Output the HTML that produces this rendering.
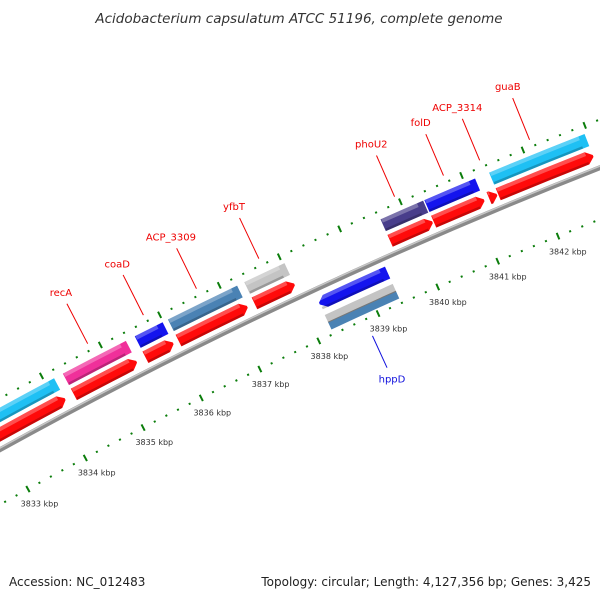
<!DOCTYPE html>
<html><head><meta charset="utf-8"><style>
html,body{margin:0;padding:0;background:#fff;}
svg{display:block;font-family:"DejaVu Sans","Liberation Sans",sans-serif;}
</style></head><body>
<svg id="map" width="600" height="600" viewBox="0 0 600 600">
<text x="299" y="23" text-anchor="middle" font-size="13.5" font-style="italic" fill="#333">Acidobacterium capsulatum ATCC 51196, complete genome</text>
<text x="9" y="586" font-size="12" fill="#222">Accession: NC_012483</text>
<text x="591" y="586" font-size="12" fill="#222" text-anchor="end">Topology: circular; Length: 4,127,356 bp; Genes: 3,425</text>
<g id="layer"></g>
</svg>
<script>
// ---- data ----
const geneNames = ["cds-left","recA","coaD","ACP_3309","yfbT","phoU2","folD","ACP_3314","guaB","hppD"];
const geneStart = [3832.0,3834.30,3835.52,3836.08,3837.36,3839.62,3840.34,3841.25,3841.40,3838.25];
const geneEnd   = [3834.15,3835.37,3835.99,3837.24,3838.03,3840.32,3841.17,3841.38,3842.95,3839.39];
const geneStrand= [1,1,1,1,1,1,1,1,1,-1];
const cogColor  = ["#1ec0f4","#f0309a","#1414ee","#4a82b4","#c4c4c4","#483d8b","#1414ee","","#1ec0f4","#c4c4c4|#4a82b4"];
const labelNames = ["recA","coaD","ACP_3309","yfbT","phoU2","folD","ACP_3314","guaB","hppD"];
const labelKbp   = [3834.84,3835.78,3836.67,3837.71,3839.95,3840.75,3841.34,3842.15,3838.78];
const tickMajor  = [3832,3833,3834,3835,3836,3837,3838,3839,3840,3841,3842,3843,3844];

// ---- geometry ----
const CX=2449, CY=4881, A0=-118.12, DEG_PER_KBP=0.746;
const R_OUT_TICK=5108, R_COG=[5087,5100], R_FWD=[5070,5083], R_BACK=5063, R_REV=[5042,5055], R_REVCOG=[5020,5036], R_IN_TICK=5015, R_TLAB=4997;
const NS="http://www.w3.org/2000/svg";
const layer=document.getElementById('layer');
function ang(k){return (A0+(k-3834)*DEG_PER_KBP)*Math.PI/180;}
function pt(r,k){const a=ang(k);return [CX+r*Math.cos(a),CY+r*Math.sin(a)];}
function f(p){return p[0].toFixed(2)+","+p[1].toFixed(2);}
function el(tag,attrs){const e=document.createElementNS(NS,tag);for(const k in attrs)e.setAttribute(k,attrs[k]);layer.appendChild(e);return e;}
function arcPath(r,k1,k2){const p1=pt(r,k1),p2=pt(r,k2);return "M"+f(p1)+" A"+r+","+r+" 0 0 1 "+f(p2);}
function segPath(r1,r2,k1,k2){
  return "M"+f(pt(r2,k1))+" A"+r2+","+r2+" 0 0 1 "+f(pt(r2,k2))+" L"+f(pt(r1,k2))+" A"+r1+","+r1+" 0 0 0 "+f(pt(r1,k1))+"Z";
}
function arrowPath(r1,r2,k1,k2,dir){
  const h=0.1, rm=(r1+r2)/2;
  if(dir>0){const kb=Math.max(k1,k2-h);
    return "M"+f(pt(r2,k1))+" A"+r2+","+r2+" 0 0 1 "+f(pt(r2,kb))+" L"+f(pt(rm+1,k2))+" L"+f(pt(rm-1,k2))+" L"+f(pt(r1,kb))+" A"+r1+","+r1+" 0 0 0 "+f(pt(r1,k1))+"Z";}
  const kb=Math.min(k2,k1+h);
  return "M"+f(pt(rm+1,k1))+" L"+f(pt(r2,kb))+" A"+r2+","+r2+" 0 0 1 "+f(pt(r2,k2))+" L"+f(pt(r1,k2))+" A"+r1+","+r1+" 0 0 0 "+f(pt(r1,kb))+" L"+f(pt(rm-1,k1))+"Z";
}

// ---- tick rings ----
for(let i=0;i<tickMajor.length-1;i++){
  for(let j=1;j<5;j++){
    const k=tickMajor[i]+j*(tickMajor[i+1]-tickMajor[i])/5;
    [R_OUT_TICK,R_IN_TICK].forEach(r=>{
      const d=el('path',{d:"M"+f(pt(r-1,k))+" L"+f(pt(r+1,k)),stroke:"#0b7d0b","stroke-width":2});
      
      
    });
  }
}
tickMajor.forEach(k=>{
  [R_OUT_TICK,R_IN_TICK].forEach(r=>{
    const t=el('path',{d:"M"+f(pt(r-3.5,k))+" L"+f(pt(r+3.5,k)),stroke:"#0b7d0b","stroke-width":2});
    
    
  });
  const p=pt(R_TLAB,k+0.05);
  if(p[0]>5 && p[0]<595 && p[1]>5 && p[1]<560){
    const tl=el('text',{x:p[0].toFixed(1),y:(p[1]+3).toFixed(1),"text-anchor":"middle","font-size":"8",fill:"#333"});
    tl.textContent=k+" kbp";
    
    
  }
});

// ---- backbone ----
const bb=el('path',{d:arcPath(R_BACK,3831,3845),stroke:"#8a8a8a","stroke-width":5,fill:"none"});


const bb2=el('path',{d:arcPath(R_BACK+1.5,3831,3845),stroke:"#c6c6c6","stroke-width":1.5,fill:"none"});



function shaded(d,color,r1,r2,k1,k2,name){
  const b=el('path',{d:d,fill:color});
  
  
  const ke=k2-0.1>k1?k2-0.1:k2;
  const hi=el('path',{d:segPath(r2-4,r2,k1+0.01,ke),fill:"#fff","fill-opacity":0.28});
  
  
  const sh=el('path',{d:segPath(r1,r1+2.5,k1+0.01,ke),fill:"#000","fill-opacity":0.22});
  
  
}

// ---- genes ----
geneNames.forEach((n,i)=>{
  const k1=geneStart[i],k2=geneEnd[i],s=geneStrand[i];
  const rr=s>0?R_FWD:R_REV, cr=s>0?R_COG:R_REVCOG;
  shaded(arrowPath(rr[0],rr[1],k1,k2,s), s>0?"#ff0a0a":"#1414ee", rr[0],rr[1],k1,k2,"gene-"+n);
  const c=cogColor[i];
  if(c){
    const parts=c.split("|");
    if(parts.length===1){
      shaded(segPath(cr[0],cr[1],k1,k2),parts[0],cr[0],cr[1],k1,k2,"cog-"+n);
    } else {
      const mid=(cr[0]+cr[1])/2;
      const a=el('path',{d:segPath(mid,cr[1],k1,k2),fill:parts[0]});
      
      
      const b=el('path',{d:segPath(cr[0],mid,k1,k2),fill:parts[1]});
      
      
      const ln=el('path',{d:arcPath(mid,k1,k2),stroke:"#777","stroke-width":1,fill:"none"});
      
      
    }
  }
});

// ---- labels ----
labelNames.forEach((n,i)=>{
  const k=labelKbp[i], rev=(n==="hppD");
  const r1=rev?4997:5115, r2=rev?4962:5160, rt=rev?4950:5173;
  const col=rev?"#1010dd":"#ee0000";
  const ln=el('path',{d:"M"+f(pt(r1,k))+" L"+f(pt(r2,k)),stroke:col,"stroke-width":1});
  
  
  const p=pt(rt,k);
  const t=el('text',{x:p[0].toFixed(1),y:(p[1]+4).toFixed(1),"text-anchor":"middle","font-size":"10",fill:col});
  t.textContent=n;
  
  
});
</script>
</body></html>
